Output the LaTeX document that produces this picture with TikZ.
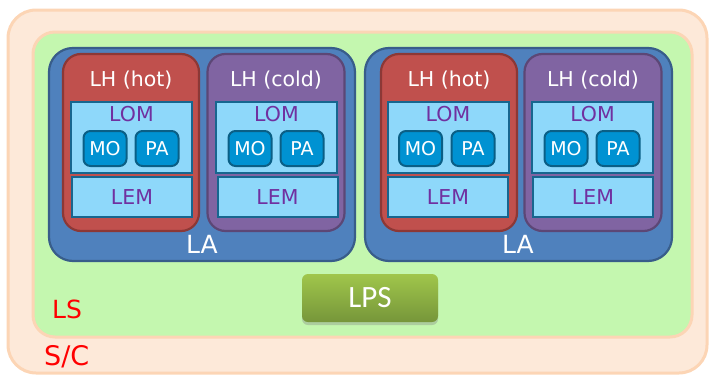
\documentclass[tikz,border=0pt]{standalone}
\usepackage{fontspec}
\setmainfont{DejaVu Sans}
\newfontfamily\calib{Carlito}
\usetikzlibrary{shadows}
\definecolor{scfill}{HTML}{FDE9D9}
\definecolor{scline}{HTML}{FCD5B5}
\definecolor{lsfill}{HTML}{C4F7AF}
\definecolor{lafill}{HTML}{4F81BD}
\definecolor{laline}{HTML}{385D8A}
\definecolor{hotfill}{HTML}{C0504D}
\definecolor{hotline}{HTML}{8C3836}
\definecolor{coldfill}{HTML}{8064A2}
\definecolor{coldline}{HTML}{5C4776}
\definecolor{lomfill}{HTML}{8ED8FA}
\definecolor{lomline}{HTML}{17668F}
\definecolor{mofill}{HTML}{0092D2}
\definecolor{moline}{HTML}{0A5F86}
\definecolor{purp}{HTML}{7030A0}
\definecolor{lpstop}{HTML}{A0C64B}
\definecolor{lpsbot}{HTML}{76963A}
\tikzset{
  box/.style={inner sep=0pt, outer sep=0pt},
  scbox/.style={box, draw=scline, fill=scfill, line width=3pt, rounded corners=28pt},
  lsbox/.style={box, draw=scline, fill=lsfill, line width=3pt, rounded corners=22pt},
  labox/.style={box, draw=laline, fill=lafill, line width=2.2pt, rounded corners=24pt, minimum width=306pt, minimum height=213pt},
  hotbox/.style={box, draw=hotline, fill=hotfill, line width=2.2pt, rounded corners=18pt, minimum width=136pt, minimum height=177pt},
  coldbox/.style={box, draw=coldline, fill=coldfill, line width=2.2pt, rounded corners=18pt, minimum width=137pt, minimum height=177pt},
  lombox/.style={box, draw=lomline, fill=lomfill, line width=2pt, minimum width=121pt, minimum height=71pt},
  lembox/.style={box, draw=lomline, fill=lomfill, line width=2pt, minimum width=120pt, minimum height=40pt, text=purp, font=\fontsize{20.5}{22}\selectfont},
  mobox/.style={box, draw=moline, fill=mofill, line width=2pt, rounded corners=7pt, minimum width=43pt, minimum height=35pt, text=white, font=\fontsize{19}{20}\selectfont},
  lhtext/.style={text=white, font=\fontsize{20.5}{22}\selectfont, inner sep=0pt},
  lomtext/.style={text=purp, font=\fontsize{20.5}{22}\selectfont, inner sep=0pt},
  latext/.style={text=white, font=\fontsize{25}{27}\selectfont, inner sep=0pt},
  redtext/.style={text=red, inner sep=0pt, anchor=west},
  lpsbox/.style={box, rounded corners=6pt, top color=lpstop, bottom color=lpsbot, minimum width=136pt, minimum height=48pt, text=white, font=\calib\fontsize{31}{33}\selectfont, drop shadow={shadow xshift=0pt, shadow yshift=-3pt, opacity=0.35}}
}
\begin{document}
\begin{tikzpicture}[x=1pt,y=-1pt]
\useasboundingbox (0,0) rectangle (709,375);
\node[scbox, minimum width=699pt, minimum height=363pt] (sc) at (357.5,191.5) {};
\node[lsbox, minimum width=659pt, minimum height=305pt] (ls) at (362.5,184.5) {};
\node[labox] (laL) at (202,154.5) {};
\node[labox, minimum width=307pt] (laR) at (518.5,154.5) {};
\node[latext] (laLt) at (202,244) {LA};
\node[latext] (laRt) at (518,244) {LA};
% left hot
\node[hotbox] (lh1) at (131,142.5) {};
\node[lhtext] (lh1t) at (131,80) {LH (hot)};
\node[lombox] (lom1) at (131.5,137.5) {};
\node[lomtext] (lom1t) at (131.5,114) {LOM};
\node[mobox] (mo1) at (105,148.5) {MO};
\node[mobox] (pa1) at (157,148.5) {PA};
\node[lembox] (lem1) at (132,197) {LEM};
% left cold
\node[coldbox] (lh2) at (276,142.5) {};
\node[lhtext] (lh2t) at (276,80) {LH (cold)};
\node[lombox] (lom2) at (276.5,137.5) {};
\node[lomtext] (lom2t) at (276.5,114) {LOM};
\node[mobox] (mo2) at (250,148.5) {MO};
\node[mobox] (pa2) at (302,148.5) {PA};
\node[lembox] (lem2) at (277.5,197) {LEM};
% right hot
\node[hotbox] (lh3) at (449,142.5) {};
\node[lhtext] (lh3t) at (449,80) {LH (hot)};
\node[lombox] (lom3) at (448,137.5) {};
\node[lomtext] (lom3t) at (448,114) {LOM};
\node[mobox] (mo3) at (420.5,148.5) {MO};
\node[mobox] (pa3) at (473,148.5) {PA};
\node[lembox] (lem3) at (448,197) {LEM};
% right cold
\node[coldbox] (lh4) at (593,142.5) {};
\node[lhtext] (lh4t) at (593,80) {LH (cold)};
\node[lombox] (lom4) at (592.5,137.5) {};
\node[lomtext] (lom4t) at (592.5,114) {LOM};
\node[mobox] (mo4) at (566,148.5) {MO};
\node[mobox] (pa4) at (618,148.5) {PA};
\node[lembox] (lem4) at (593,197) {LEM};
% LPS
\node[lpsbox] (lps) at (370,298) {LPS};
\node[redtext, font=\fontsize{25}{27}\selectfont] (lst) at (52,309) {LS};
\node[redtext, font=\fontsize{27}{29}\selectfont] (sct) at (44,357) {S/C};
\end{tikzpicture}
\end{document}
